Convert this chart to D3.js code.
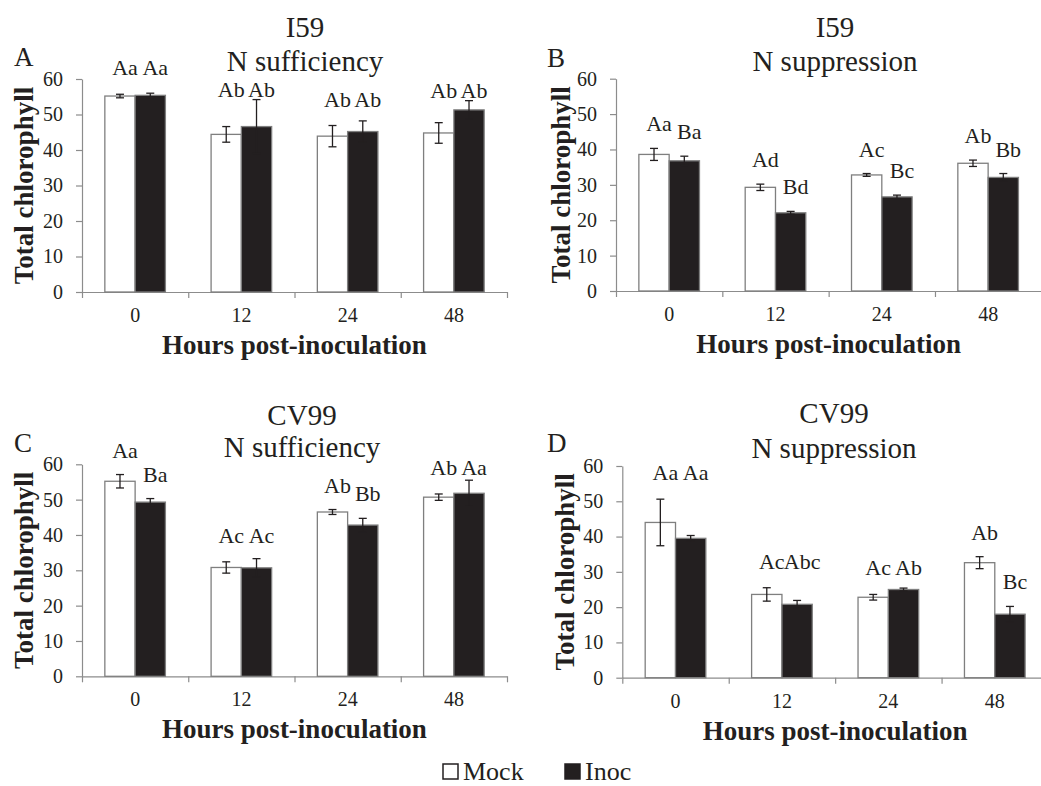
<!DOCTYPE html>
<html>

<head>
    <meta charset="utf-8" />
    <script src="https://d3js.org/d3.v7.min.js"></script>
    <style>
        body {
            margin: 0;
            background: #fff;
        }

        svg text {
            font-family: 'Liberation Serif', 'Tinos', 'Times New Roman', 'DejaVu Serif', serif;
            fill: #231f20;
        }

        .axis path,
        .axis line {
            stroke: #8c8c8c;
            stroke-width: 1.2;
        }
    </style>
</head>

<body>
    <script>
        // data
        const hours = ['0', '12', '24', '48'];
        const yTicks = [0, 10, 20, 30, 40, 50, 60];

        // A: I59, N sufficiency
        const aMock = [55.2, 44.4, 43.9, 44.8];
        const aMockErr = [0.5, 2.2, 3.0, 2.9];
        const aInoc = [55.4, 46.6, 45.2, 51.3];
        const aInocErr = [0.6, 7.6, 3.0, 2.6];
        const aMockLab = ['Aa', 'Ab', 'Ab', 'Ab'];
        const aInocLab = ['Aa', 'Ab', 'Ab', 'Ab'];

        // B: I59, N suppression
        const bMock = [38.6, 29.3, 32.8, 36.1];
        const bMockErr = [1.7, 0.9, 0.4, 0.9];
        const bInoc = [36.8, 22.1, 26.6, 32.1];
        const bInocErr = [1.3, 0.4, 0.5, 1.1];
        const bMockLab = ['Aa', 'Ad', 'Ac', 'Ab'];
        const bInocLab = ['Ba', 'Bd', 'Bc', 'Bb'];

        // C: CV99, N sufficiency
        const cMock = [55.2, 30.8, 46.5, 50.7];
        const cMockErr = [1.9, 1.6, 0.7, 0.9];
        const cInoc = [49.3, 30.7, 42.8, 51.8];
        const cInocErr = [1.0, 2.6, 1.9, 3.7];
        const cMockLab = ['Aa', 'Ac', 'Ab', 'Ab'];
        const cInocLab = ['Ba', 'Ac', 'Bb', 'Aa'];

        // D: CV99, N suppression
        const dMock = [44.0, 23.6, 22.8, 32.6];
        const dMockErr = [6.6, 1.9, 0.8, 1.7];
        const dInoc = [39.5, 20.8, 25.0, 18.0];
        const dInocErr = [0.8, 1.1, 0.4, 2.2];
        const dMockLab = ['Aa', 'Ac', 'Ac', 'Ab'];
        const dInocLab = ['Aa', 'Abc', 'Ab', 'Bc'];

        const inocColor = '#231f20';
        const barStroke = '#7f7f7f';
        const serif = "'Liberation Serif', 'Tinos', 'Times New Roman', 'DejaVu Serif', serif";

        // panel layout
        const panels = [
            { id: 'A', strain: 'I59', cond: 'N sufficiency', mock: aMock, mockErr: aMockErr, inoc: aInoc, inocErr: aInocErr, mockLab: aMockLab, inocLab: aInocLab,
              x0: 82, x1: 507, yt: 79, yb: 292, lx: 14, ly: 66, ytx: 24, tx: 305, t1: 37, t2: 71 },
            { id: 'B', strain: 'I59', cond: 'N suppression', mock: bMock, mockErr: bMockErr, inoc: bInoc, inocErr: bInocErr, mockLab: bMockLab, inocLab: bInocLab,
              x0: 616, x1: 1041.3, yt: 78.7, yb: 291, lx: 547, ly: 67, ytx: 561, tx: 835, t1: 37, t2: 71 },
            { id: 'C', strain: 'CV99', cond: 'N sufficiency', mock: cMock, mockErr: cMockErr, inoc: cInoc, inocErr: cInocErr, mockLab: cMockLab, inocLab: cInocLab,
              x0: 82, x1: 507, yt: 464.3, yb: 676.3, lx: 14, ly: 452, ytx: 24, tx: 302, t1: 425, t2: 457 },
            { id: 'D', strain: 'CV99', cond: 'N suppression', mock: dMock, mockErr: dMockErr, inoc: dInoc, inocErr: dInocErr, mockLab: dMockLab, inocLab: dInocLab,
              x0: 622.3, x1: 1048, yt: 466, yb: 677.7, lx: 547, ly: 452, ytx: 565, tx: 834, t1: 423, t2: 458 }
        ];

        const svg = d3.select('body')
            .append('svg')
            .attr('width', 1041)
            .attr('height', 786)
            .style('font-family', serif);

        panels.forEach(p => {
            const g = svg.append('g');

            const x = d3.scaleBand().domain(hours).range([p.x0, p.x1]).paddingInner(0.43).paddingOuter(0.215);
            const sub = d3.scaleBand().domain(['mock', 'inoc']).range([0, x.bandwidth()]);
            const y = d3.scaleLinear().domain([0, 60]).range([p.yb, p.yt]);
            const edge = d3.scaleLinear().domain([0, hours.length]).range([p.x0, p.x1]);

            // y axis
            g.append('g')
                .attr('class', 'axis')
                .attr('transform', `translate(${p.x0},0)`)
                .call(d3.axisLeft(y).tickValues(yTicks).tickSize(6).tickPadding(13).tickSizeOuter(0))
                .attr('font-family', serif)
                .attr('font-size', 20);

            // x axis: tick marks between categories
            g.append('g')
                .attr('class', 'axis')
                .attr('transform', `translate(0,${p.yb})`)
                .call(d3.axisBottom(edge).tickValues(d3.range(hours.length + 1)).tickSize(6).tickSizeOuter(0).tickFormat(''));

            // x labels
            g.append('g')
                .attr('class', 'axis')
                .attr('transform', `translate(0,${p.yb})`)
                .call(d3.axisBottom(x).tickSize(0).tickPadding(16))
                .attr('font-family', serif)
                .attr('font-size', 20)
                .call(a => a.select('.domain').remove());

            const series = [
                { key: 'mock', vals: p.mock, err: p.mockErr, lab: p.mockLab, fill: '#ffffff' },
                { key: 'inoc', vals: p.inoc, err: p.inocErr, lab: p.inocLab, fill: inocColor }
            ];

            series.forEach(s => {
                const rows = hours.map((h, i) => ({ h, v: s.vals[i], e: s.err[i] }));
                const cx = d => x(d.h) + sub(s.key) + sub.bandwidth() / 2;

                g.selectAll(null)
                    .data(rows)
                    .enter()
                    .append('rect')
                    .attr('x', d => x(d.h) + sub(s.key))
                    .attr('y', d => y(d.v))
                    .attr('width', sub.bandwidth())
                    .attr('height', d => y(0) - y(d.v))
                    .attr('fill', s.fill)
                    .attr('stroke', barStroke)
                    .attr('stroke-width', 1.3);

                // error bars
                const eb = g.selectAll(null)
                    .data(rows)
                    .enter()
                    .append('g')
                    .attr('stroke', '#231f20')
                    .attr('stroke-width', 1.3);
                eb.append('line')
                    .attr('x1', cx).attr('x2', cx)
                    .attr('y1', d => y(d.v - d.e)).attr('y2', d => y(d.v + d.e));
                eb.append('line')
                    .attr('x1', d => cx(d) - 4).attr('x2', d => cx(d) + 4)
                    .attr('y1', d => y(d.v + d.e)).attr('y2', d => y(d.v + d.e));
                eb.append('line')
                    .attr('x1', d => cx(d) - 4).attr('x2', d => cx(d) + 4)
                    .attr('y1', d => y(d.v - d.e)).attr('y2', d => y(d.v - d.e));
            });

            // significance letters
            // same capital letter -> both on one row set by the mock bar,
            // different -> each above its own error bar
            hours.forEach((h, i) => {
                const topM = p.mock[i] + p.mockErr[i];
                const topI = p.inoc[i] + p.inocErr[i];
                const same = p.mockLab[i][0] === p.inocLab[i][0];
                const row = Math.min(y(topM) - 19, y(topI) - 3);
                [['mock', p.mockLab[i], topM], ['inoc', p.inocLab[i], topI]].forEach(([k, lab, top]) => {
                    g.append('text')
                        .attr('x', x(h) + sub(k) + sub.bandwidth() / 2 + 5)
                        .attr('y', same ? row : y(top) - 17)
                        .attr('text-anchor', 'middle')
                        .style('font-size', '22px')
                        .text(lab);
                });
            });

            // titles
            g.append('text')
                .attr('x', p.tx).attr('y', p.t1)
                .attr('text-anchor', 'middle')
                .style('font-size', '29px')
                .text(p.strain);
            g.append('text')
                .attr('x', p.tx).attr('y', p.t2)
                .attr('text-anchor', 'middle')
                .style('font-size', '29px')
                .text(p.cond);

            // panel letter
            g.append('text')
                .attr('x', p.lx).attr('y', p.ly)
                .style('font-size', '27px')
                .text(p.id);

            // y axis title
            g.append('text')
                .attr('transform', `translate(${p.ytx},${(p.yt + p.yb) / 2}) rotate(-90)`)
                .attr('text-anchor', 'middle')
                .attr('dy', '0.35em')
                .style('font-size', '27px')
                .style('font-weight', 'bold')
                .text('Total chlorophyll');

            // x axis title
            g.append('text')
                .attr('x', (p.x0 + p.x1) / 2)
                .attr('y', p.yb + 62)
                .attr('text-anchor', 'middle')
                .style('font-size', '27px')
                .style('font-weight', 'bold')
                .text('Hours post-inoculation');
        });

        // legend
        const legend = svg.append('g').attr('transform', 'translate(0,780)');
        const legendItems = [
            { name: 'Mock', fill: '#ffffff', x: 443 },
            { name: 'Inoc', fill: inocColor, x: 565 }
        ];
        legendItems.forEach(l => {
            legend.append('rect')
                .attr('x', l.x).attr('y', -16)
                .attr('width', 15).attr('height', 15)
                .attr('fill', l.fill)
                .attr('stroke', '#231f20')
                .attr('stroke-width', 1.5);
            legend.append('text')
                .attr('x', l.x + 20).attr('y', 0)
                .style('font-size', '26px')
                .text(l.name);
        });
    </script>
</body>

</html>
